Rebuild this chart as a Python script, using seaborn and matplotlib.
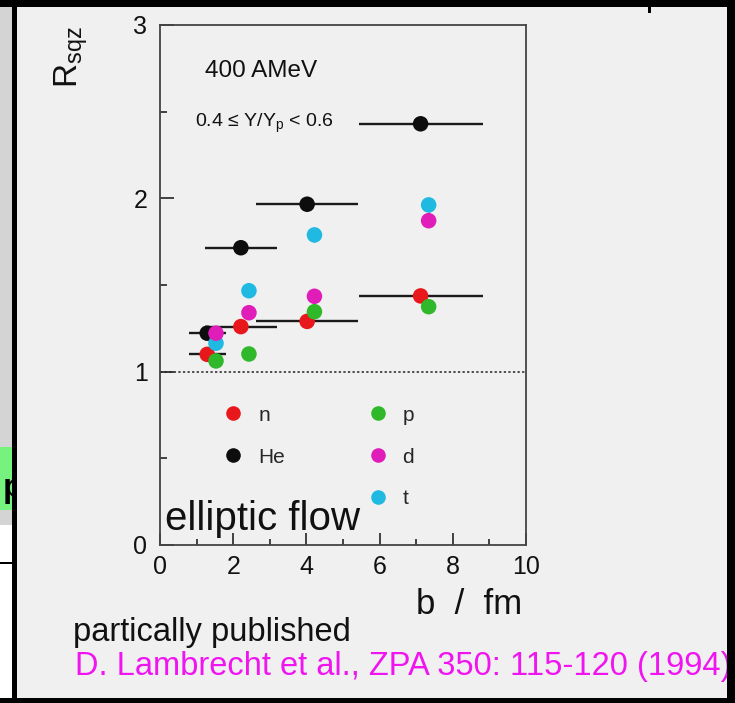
import numpy as np
import pandas as pd
import matplotlib
matplotlib.use("Agg")
import matplotlib.pyplot as plt
import seaborn as sns
from matplotlib.lines import Line2D
from matplotlib.patches import Rectangle
from matplotlib.transforms import Bbox

# ---------------- data ----------------
particles = ["n", "He", "p", "d", "t"]
colors = {"n": "#e8171c", "He": "#0d0d0d", "p": "#2fb82a", "d": "#e01db9", "t": "#1fb9e1"}

b_n = [1.29, 2.21, 4.02, 7.12]          # impact parameter for n and He
b_lcp = [1.53, 2.43, 4.22, 7.34]        # impact parameter for p, d, t
bin_lo = [0.80, 1.23, 2.63, 5.43]       # b-bin lower edges
bin_hi = [1.81, 3.21, 5.41, 8.83]       # b-bin upper edges

r_n = [1.10, 1.26, 1.29, 1.437]
r_he = [1.222, 1.715, 1.966, 2.43]
r_p = [1.062, 1.102, 1.346, 1.375]
r_d = [1.222, 1.34, 1.435, 1.871]
r_t = [1.164, 1.467, 1.789, 1.962]
rerr_he = [0.02, 0.03, 0.03, 0.04]
rerr_t = [0.02, 0.03, 0.04, 0.04]

y_ticks = [0, 1, 2, 3]
x_ticks = [0, 2, 4, 6, 8, 10]

# ---------------- style ----------------
sns.set_theme(style="ticks")
plt.rcParams["font.family"] = ["Liberation Sans", "DejaVu Sans"]
plt.rcParams["mathtext.default"] = "regular"

BG = "#f0f0f0"
W, H = 735, 703
fig = plt.figure(figsize=(W / 100, H / 100), dpi=100, facecolor=BG)

def px(x0, y0, x1, y1):
    """pixel box (top-left origin) -> figure fraction rect"""
    return (x0 / W, 1 - y1 / H, (x1 - x0) / W, (y1 - y0) / H)

ax = fig.add_axes(px(160, 25, 526, 545))
ax.set_facecolor(BG)

# long-form table
rows = []
order = ["He", "n", "t", "d", "p"]
vals = {"n": (b_n, r_n), "He": (b_n, r_he), "p": (b_lcp, r_p), "d": (b_lcp, r_d), "t": (b_lcp, r_t)}
for name in order:
    bs, rs = vals[name]
    for b, r in zip(bs, rs):
        rows.append({"b": b, "R": r, "particle": name})
df = pd.DataFrame(rows)

# bin-width bars (n and He)
for bs, rs in [(b_n, r_he), (b_n, r_n)]:
    xerr = [np.array(bs) - np.array(bin_lo), np.array(bin_hi) - np.array(bs)]
    ax.errorbar(bs, rs, xerr=xerr, fmt="none", ecolor="#1a1a1a", elinewidth=1.7, capsize=0, zorder=2)
ax.errorbar(b_n, r_he, yerr=rerr_he, fmt="none", ecolor="#1a1a1a", elinewidth=1.2, capsize=0, zorder=2)
ax.errorbar(b_lcp, r_t, yerr=rerr_t, fmt="none", ecolor="#444444", elinewidth=1.0, capsize=0, zorder=2)

sns.scatterplot(data=df, x="b", y="R", hue="particle", palette=colors, s=125,
                edgecolor="none", linewidth=0, legend=False, zorder=3, ax=ax)

ax.axhline(1.0, color="#222222", lw=1.1, ls=(0, (1.5, 1.5)), zorder=1)

ax.set_xlim(0, 10)
ax.set_ylim(0, 3)
ax.set_xticks(x_ticks)
ax.set_xticks([1, 3, 5, 7, 9], minor=True)
ax.set_yticks(y_ticks)
ax.set_yticks([0.5, 1.5, 2.5], minor=True)
ax.set_xticklabels([str(v) for v in x_ticks])
ax.set_yticklabels([str(v) for v in y_ticks])
ax.tick_params(axis="both", which="both", direction="in", width=1.3, color="#333333",
               labelsize=18, labelcolor="#111111")
ax.tick_params(axis="y", which="major", length=10, pad=9)
ax.tick_params(axis="y", which="minor", length=5)
ax.tick_params(axis="x", which="major", length=9, pad=7)
ax.tick_params(axis="x", which="minor", length=4.5)
for sp in ax.spines.values():
    sp.set_visible(True)
    sp.set_color("#444444")
    sp.set_linewidth(1.3)

ax.set_xlabel("b  /  fm", fontsize=25, color="#111111")
ax.xaxis.set_label_coords(0.845, -0.083)
ax.set_ylabel(r"$R_{sqz}$", fontsize=24, color="#111111")
ax.yaxis.set_label_coords(-0.19, 0.939)

ax.text(1.23, 2.70, "400 AMeV", fontsize=17.5, color="#111111", va="baseline")
ax.text(0.96, 2.43, r"0.4 ≤ Y/Y$_p$ < 0.6", fontsize=14, color="#111111", va="center",
        family=["Liberation Sans", "DejaVu Sans"])
ax.text(0.15, 0.087, "elliptic flow", fontsize=29, color="#111111", va="baseline")

# legend: n, He in first column; p, d, t in second
handles, labels = [], []
for name in ["n", "He", None, "p", "d", "t"]:
    if name is None:
        handles.append(Line2D([], [], ls="none", marker=None))
        labels.append("")
    else:
        handles.append(Line2D([], [], ls="none", marker="o", ms=10.5, mec="none", color=colors[name]))
        labels.append(name)
ax.legend(handles, labels, ncol=2, frameon=False, loc="upper left", bbox_to_anchor=(0.177, 0.268),
          fontsize=15, handlelength=0.8, handletextpad=0.8, columnspacing=4.05,
          labelspacing=1.1, borderpad=0, borderaxespad=0)

# bottom notes
fig.text(73 / W, 1 - 641 / H, "partically published", fontsize=23.5, color="#111111", va="baseline")
fig.text(75 / W, 1 - 675 / H, "D. Lambrecht et al., ZPA 350: 115-120 (1994)", fontsize=23.5,
         color="#f014f0", va="baseline")

# slide frame decorations
def rect(x0, y0, x1, y1, c, z=10):
    fig.add_artist(Rectangle(px(x0, y0, x1, y1)[:2], *px(x0, y0, x1, y1)[2:],
                             transform=fig.transFigure, facecolor=c, edgecolor="none", zorder=z))

rect(0, 0, 12, 525, "#d4d4d4", 5)
rect(0, 447, 12, 510, "#76f27f", 6)
rect(0, 525, 12, 698, "#ffffff", 5)
rect(0, 562, 12, 564, "#000000", 6)
ptxt = fig.text(3 / W, 1 - 497 / H, "p", fontsize=24, fontweight="bold", color="black", zorder=7)
ptxt.set_clip_box(Bbox.from_extents(0, 0, 12, H))
ptxt.set_clip_on(True)
rect(0, 0, W, 7, "#000000")
rect(12, 0, 17, H, "#000000")
rect(727, 0, W, H, "#000000")
rect(0, 698, W, H, "#000000")
rect(648, 7, 651, 13, "#000000")

fig.savefig("out.png", dpi=100, facecolor=BG)
